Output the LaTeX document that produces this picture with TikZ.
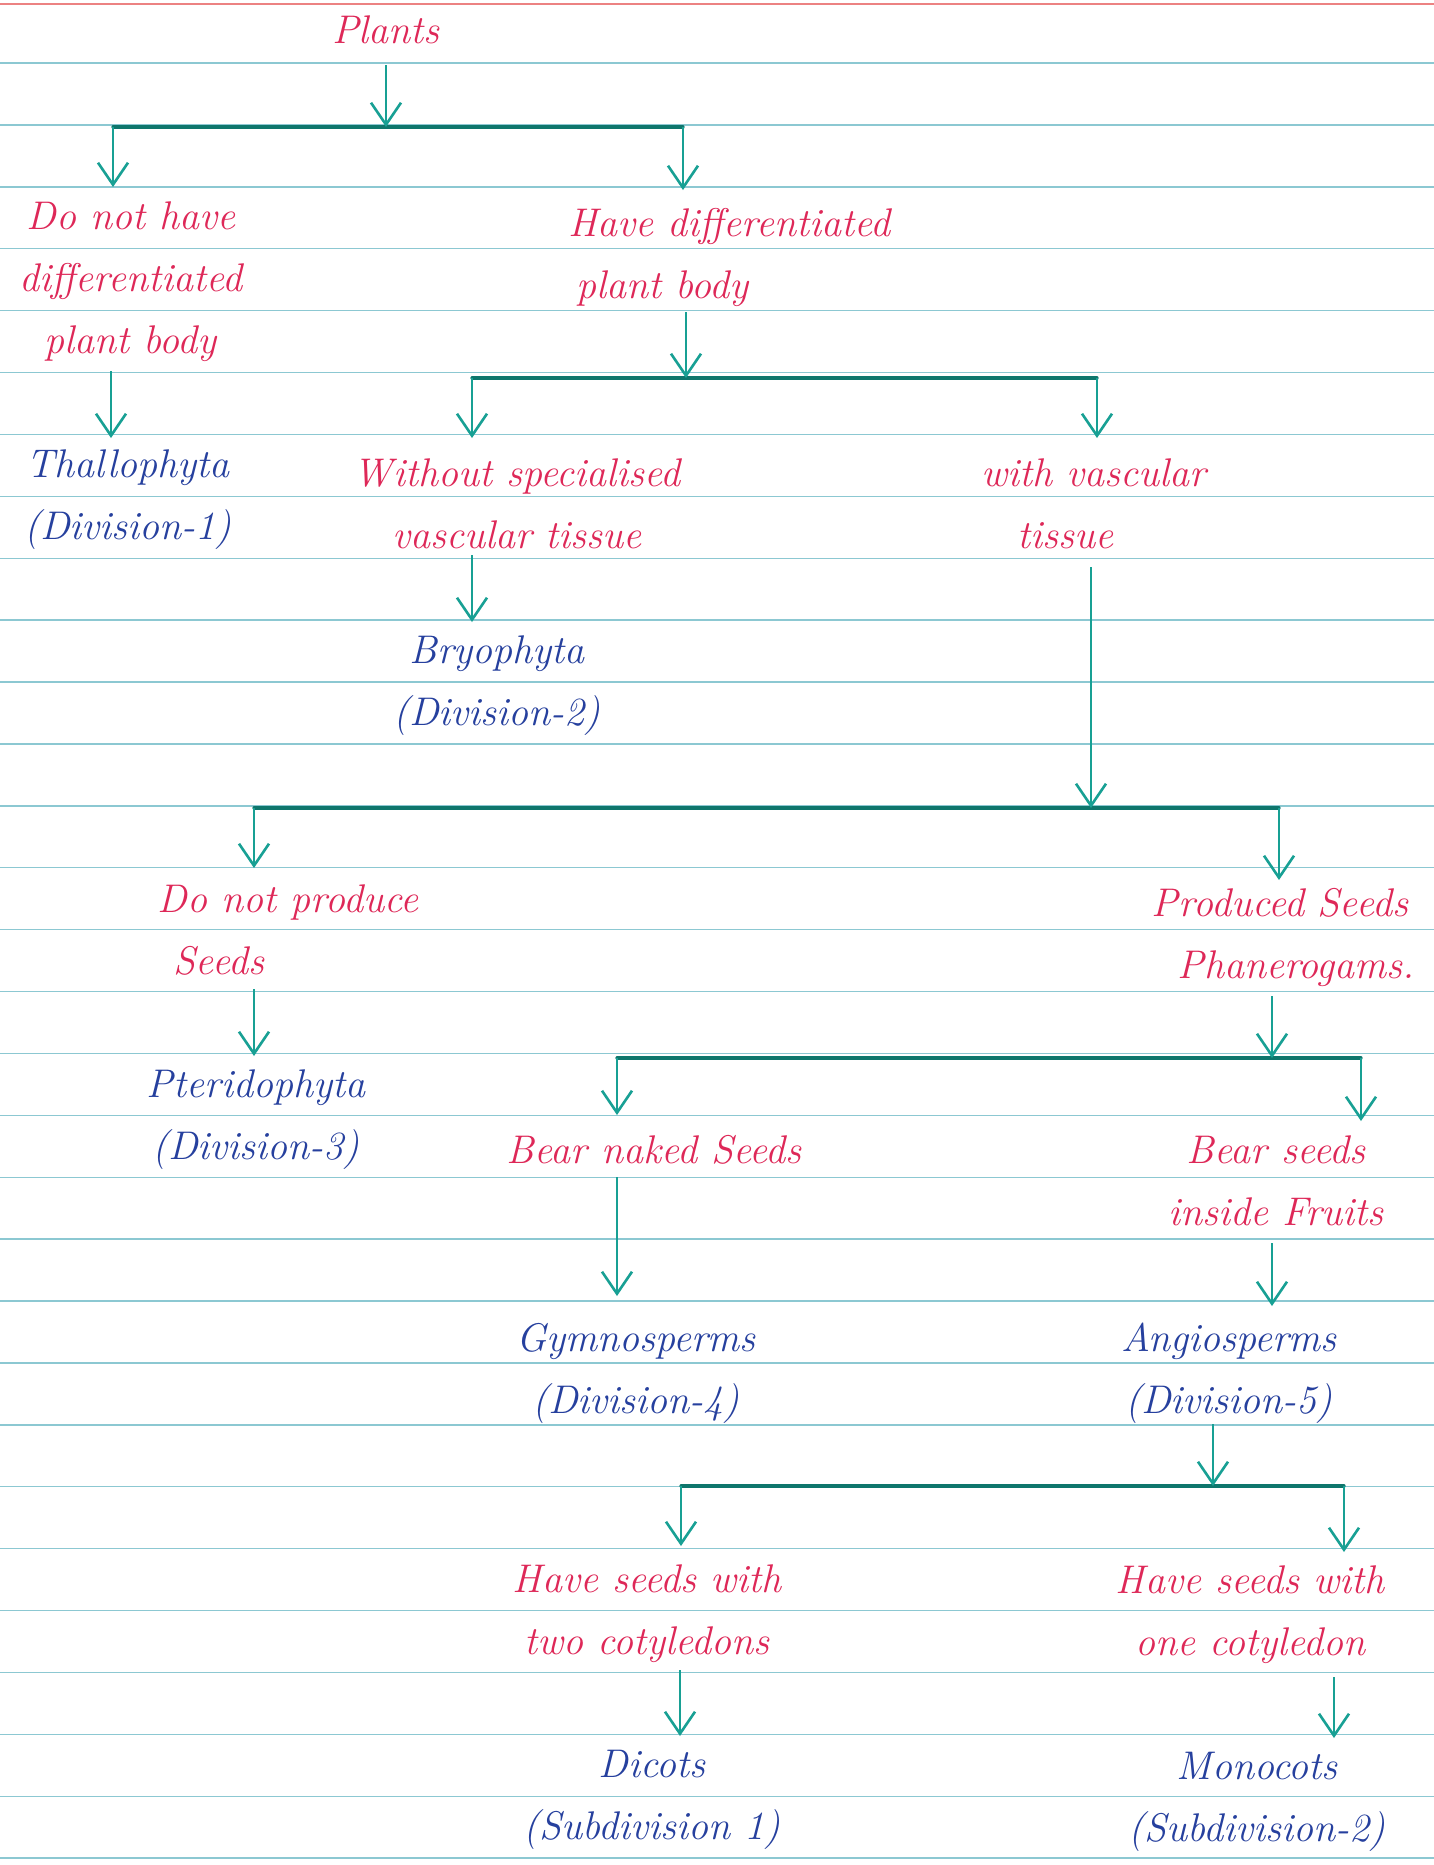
\documentclass[tikz,border=0pt]{standalone}
\usetikzlibrary{arrows.meta}
\definecolor{inkred}{RGB}{222,40,88}
\definecolor{inkblue}{RGB}{38,64,158}
\definecolor{inkteal}{RGB}{24,160,148}
\definecolor{barteal}{RGB}{14,118,108}
\definecolor{paperrule}{RGB}{140,200,210}
\definecolor{marginred}{RGB}{236,130,130}
\begin{document}
\begin{tikzpicture}[x=0.5pt,y=-0.5pt,
 txt/.style={font=\fontsize{20}{31}\selectfont\itshape, align=center, inner sep=0pt},
 redtxt/.style={txt,text=inkred},
 bluetxt/.style={txt,text=inkblue},
 arr/.style={draw=inkteal,line width=1.3pt,-{Straight Barb[length=11pt,width=15pt,line width=1.3pt]}},
 bar/.style={draw=barteal,line width=1.6pt,line cap=round},
 ruleline/.style={draw=paperrule,line width=0.7pt}]
\fill[white] (0,0) rectangle (1434,1865);
\useasboundingbox (0,0) rectangle (1434,1865);
% paper
\draw[draw=marginred,line width=1pt] (0,4) -- (1434,4);
\foreach \k in {0,...,29} \draw[ruleline] (0,{63+\k*61.9}) -- (1434,{63+\k*61.9});

% nodes
\node[redtxt] (plants) at (386,30) {Plants};
\node[redtxt] (n1) at (131,282) {Do not have\\differentiated\\plant body};
\node[redtxt,align=left,anchor=west] (n2) at (568,257) {Have differentiated\\\hspace*{4pt}plant body};
\node[bluetxt] (thallo) at (128,500) {Thallophyta\\(Division-1)};
\node[redtxt] (n3) at (517,504) {Without specialised\\vascular tissue};
\node[redtxt,align=left] (n4) at (1094,504) {with vascular\\\hspace*{18pt}tissue};
\node[bluetxt] (bryo) at (497,686) {Bryophyta\\(Division-2)};
\node[redtxt,align=left] (n5) at (288,930) {Do not produce\\\hspace*{8pt}Seeds};
\node[bluetxt] (pterido) at (256,1120) {Pteridophyta\\(Division-3)};
\node[redtxt] (n6) at (1280,937) {Produced Seeds\\\hspace*{16pt}Phanerogams.};
\node[redtxt] (n7) at (654,1150) {Bear naked Seeds};
\node[redtxt] (n8) at (1276,1181) {Bear seeds\\inside Fruits};
\node[bluetxt] (gymno) at (636,1373) {Gymnosperms\\(Division-4)};
\node[bluetxt] (angio) at (1229,1373) {Angiosperms\\(Division-5)};
\node[redtxt] (n9) at (647,1614) {Have seeds with\\two cotyledons};
\node[redtxt] (n10) at (1250,1615) {Have seeds with\\one cotyledon};
\node[bluetxt] (dicot) at (652,1800) {Dicots\\(Subdivision 1)};
\node[bluetxt] (monocot) at (1257,1802) {Monocots\\(Subdivision-2)};

% coordinates
\coordinate (p0) at (386,65);  \coordinate (j0) at (386,127);
\coordinate (b1l) at (113,127); \coordinate (b1r) at (683,127);
\coordinate (t1l) at (113,187); \coordinate (t1r) at (683,190);
\coordinate (s2) at (111,371); \coordinate (t2) at (111,438);
\coordinate (p3) at (686,312); \coordinate (j3) at (686,378);
\coordinate (b3l) at (472,378); \coordinate (b3r) at (1097,378);
\coordinate (t3l) at (472,438); \coordinate (t3r) at (1097,438);
\coordinate (s4) at (472,555); \coordinate (t4) at (472,622);
\coordinate (p5) at (1091,567); \coordinate (j5) at (1091,808);
\coordinate (b5l) at (254,808); \coordinate (b5r) at (1279,808);
\coordinate (t5l) at (254,868); \coordinate (t5r) at (1279,880);
\coordinate (s6) at (254,989); \coordinate (t6) at (254,1056);
\coordinate (p7) at (1272,996); \coordinate (j7) at (1272,1058);
\coordinate (b7l) at (617,1058); \coordinate (b7r) at (1361,1058);
\coordinate (t7l) at (617,1115); \coordinate (t7r) at (1361,1121);
\coordinate (s8) at (617,1177); \coordinate (t8) at (617,1296);
\coordinate (s9) at (1272,1243); \coordinate (t9) at (1272,1306);
\coordinate (p10) at (1213,1424); \coordinate (j10) at (1213,1486);
\coordinate (b10l) at (681,1486); \coordinate (b10r) at (1344,1486);
\coordinate (t10l) at (681,1546); \coordinate (t10r) at (1344,1552);
\coordinate (s11) at (680,1670); \coordinate (t11) at (680,1736);
\coordinate (s12) at (1334,1677); \coordinate (t12) at (1334,1738);

% connectors
\draw[bar] (b1l) -- (b1r);
\draw[arr] (p0) -- (j0);
\draw[arr] (b1l) -- (t1l);
\draw[arr] (b1r) -- (t1r);
\draw[arr] (s2) -- (t2);
\draw[bar] (b3l) -- (b3r);
\draw[arr] (p3) -- (j3);
\draw[arr] (b3l) -- (t3l);
\draw[arr] (b3r) -- (t3r);
\draw[arr] (s4) -- (t4);
\draw[bar] (b5l) -- (b5r);
\draw[arr] (p5) -- (j5);
\draw[arr] (b5l) -- (t5l);
\draw[arr] (b5r) -- (t5r);
\draw[arr] (s6) -- (t6);
\draw[bar] (b7l) -- (b7r);
\draw[arr] (p7) -- (j7);
\draw[arr] (b7l) -- (t7l);
\draw[arr] (b7r) -- (t7r);
\draw[arr] (s8) -- (t8);
\draw[arr] (s9) -- (t9);
\draw[bar] (b10l) -- (b10r);
\draw[arr] (p10) -- (j10);
\draw[arr] (b10l) -- (t10l);
\draw[arr] (b10r) -- (t10r);
\draw[arr] (s11) -- (t11);
\draw[arr] (s12) -- (t12);
\end{tikzpicture}
\end{document}
